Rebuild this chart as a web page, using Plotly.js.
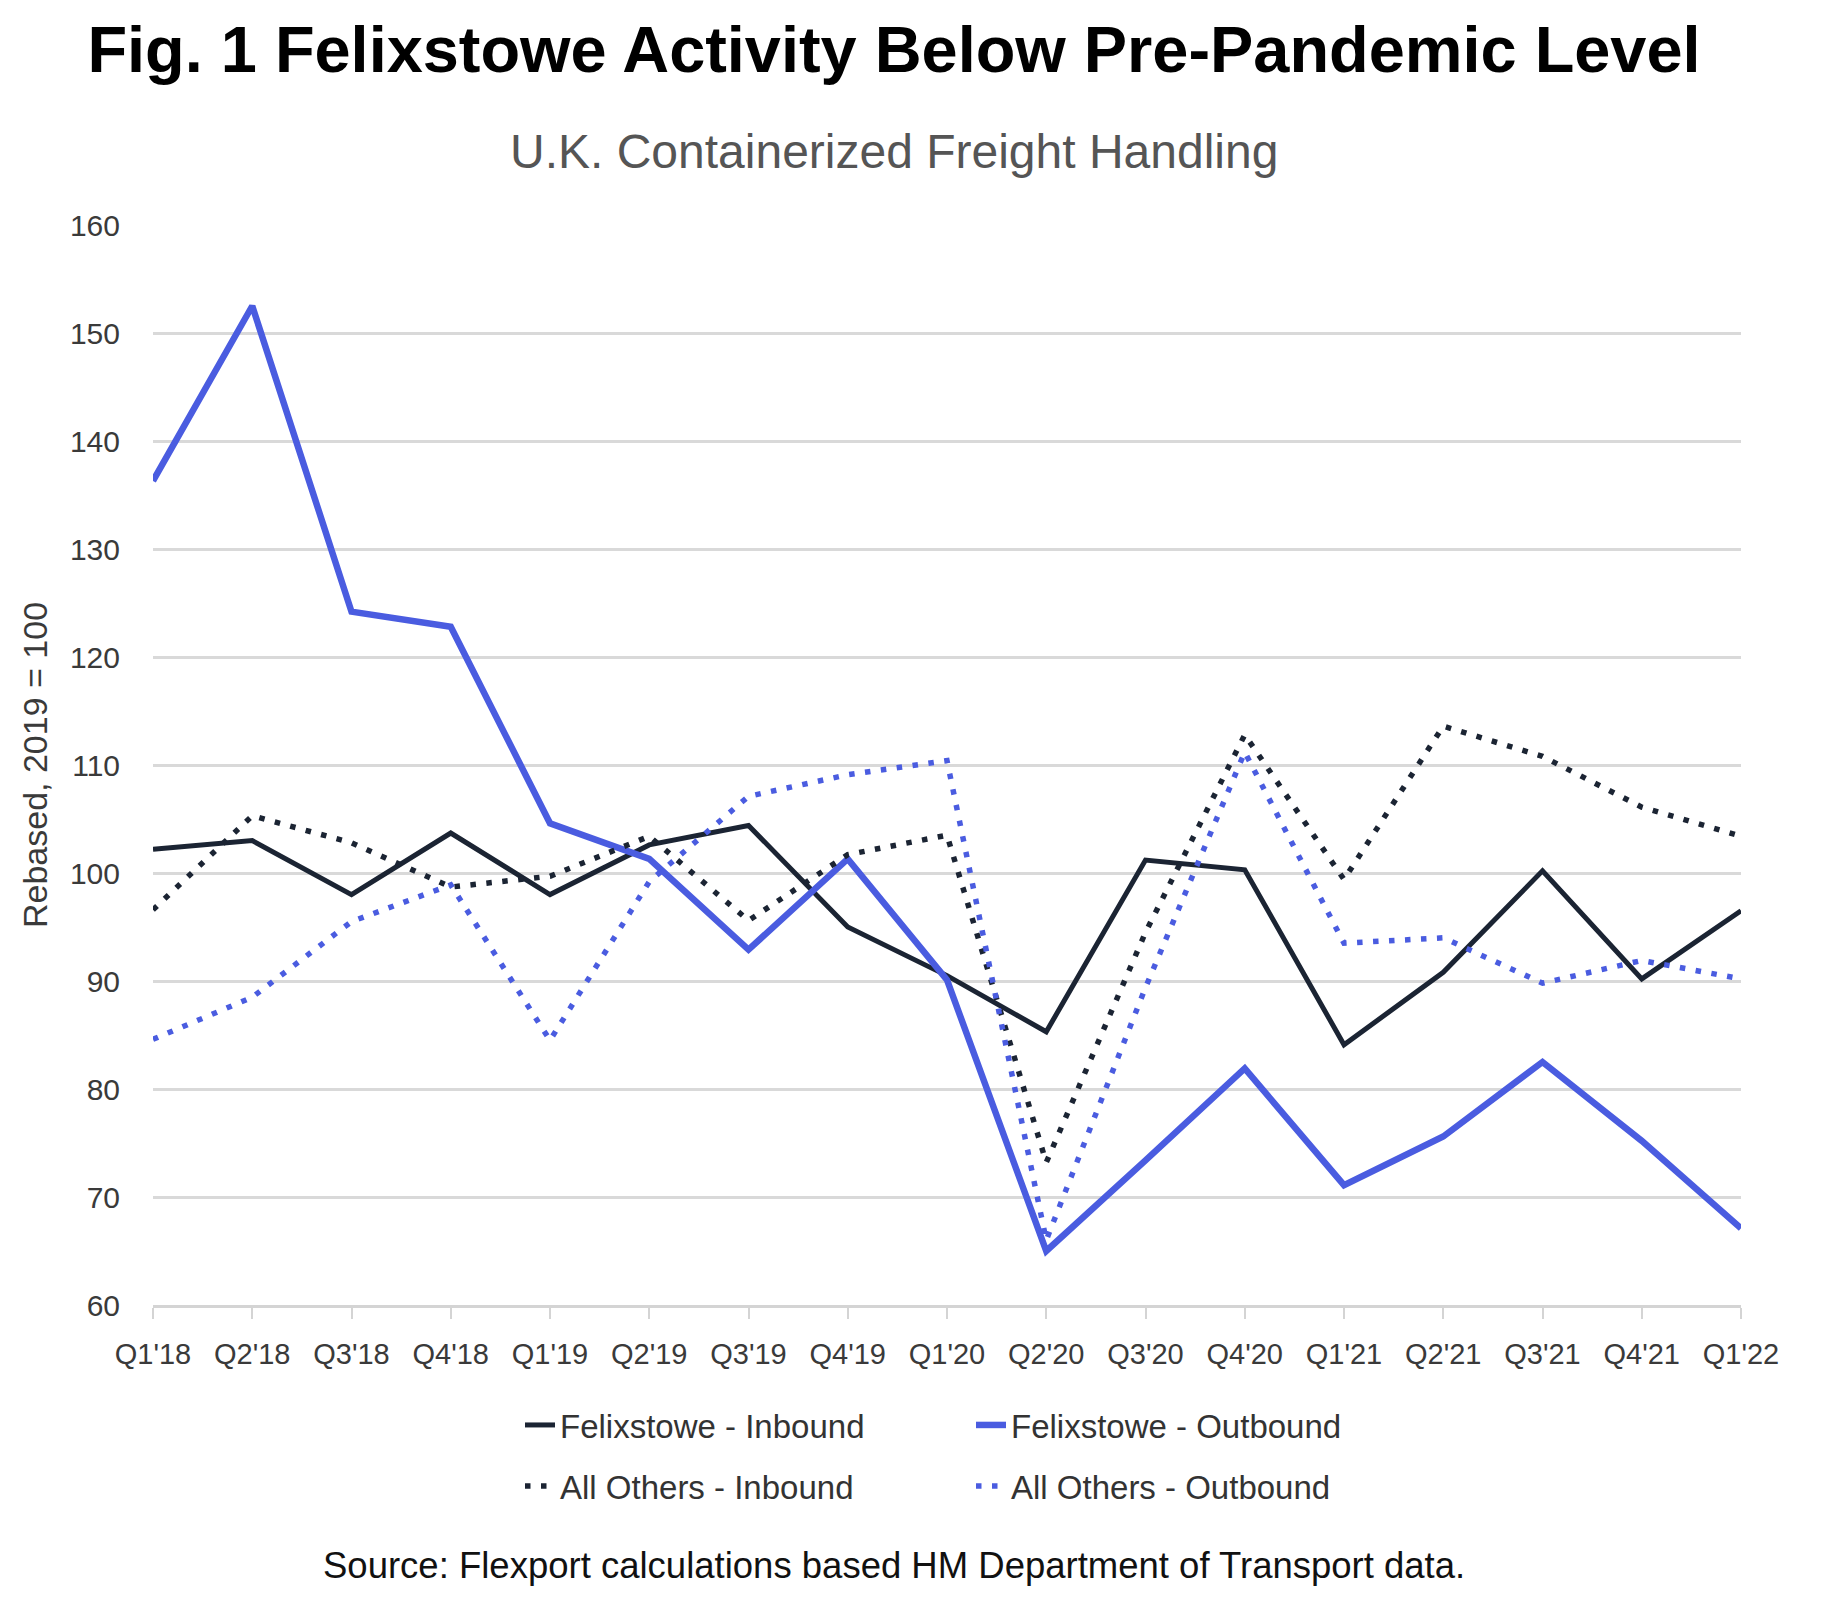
<!DOCTYPE html>
<html>
<head>
<meta charset="utf-8">
<script src="https://cdn.plot.ly/plotly-3.0.1.min.js"></script>
<style>
  html, body { margin: 0; padding: 0; background: #ffffff; }
  #chart { width: 1845px; height: 1599px; }
</style>
</head>
<body>
<div id="chart"></div>
<script>
// ---- data ----
const quarters = ["Q1'18","Q2'18","Q3'18","Q4'18","Q1'19","Q2'19","Q3'19","Q4'19","Q1'20","Q2'20","Q3'20","Q4'20","Q1'21","Q2'21","Q3'21","Q4'21","Q1'22"];
const felixstoweInbound  = [102.2, 103.0, 98.0, 103.7, 98.0, 102.6, 104.4, 95.0, 90.5, 85.3, 101.2, 100.3, 84.1, 90.8, 100.2, 90.2, 96.5];
const felixstoweOutbound = [136.3, 152.5, 124.2, 122.8, 104.6, 101.3, 92.9, 101.3, 90.1, 65.0, 73.4, 81.9, 71.1, 75.6, 82.5, 75.2, 67.1];
const allOthersInbound   = [96.6, 105.3, 102.8, 98.7, 99.7, 103.4, 95.6, 101.7, 103.5, 73.2, 94.5, 112.8, 99.4, 113.6, 110.8, 106.1, 103.4];
const allOthersOutbound  = [84.6, 88.5, 95.5, 98.9, 84.5, 99.2, 107.1, 109.1, 110.4, 66.0, 89.4, 111.2, 93.5, 94.0, 89.8, 91.9, 90.2];
const yTicks = [60, 70, 80, 90, 100, 110, 120, 130, 140, 150, 160];

const seriesNames = ["Felixstowe - Inbound", "Felixstowe - Outbound", "All Others - Inbound", "All Others - Outbound"];
const titleText = "Fig. 1 Felixstowe Activity Below Pre-Pandemic Level";
const subtitleText = "U.K. Containerized Freight Handling";
const sourceText = "Source: Flexport calculations based HM Department of Transport data.";
const yTitleText = "Rebased, 2019 = 100";

const DARK = "#1b2433";
const BLUE = "#4a5ce0";
const FONT = "Liberation Sans, Arial, sans-serif";

const traces = [
  { x: quarters, y: felixstoweInbound, name: seriesNames[0], type: "scatter", mode: "lines",
    line: { color: DARK, width: 5 }, legend: "legend" },
  { x: quarters, y: felixstoweOutbound, name: seriesNames[1], type: "scatter", mode: "lines",
    line: { color: BLUE, width: 6.5 }, legend: "legend" },
  { x: quarters, y: allOthersInbound, name: seriesNames[2], type: "scatter", mode: "lines",
    line: { color: DARK, width: 5.5, dash: "5.5px,10.5px" }, legend: "legend2" },
  { x: quarters, y: allOthersOutbound, name: seriesNames[3], type: "scatter", mode: "lines",
    line: { color: BLUE, width: 5.5, dash: "5.5px,10.5px" }, legend: "legend2" }
];

const legendCommon = {
  orientation: "h",
  xref: "container", yref: "container",
  xanchor: "left", yanchor: "middle",
  entrywidth: 406, entrywidthmode: "pixels",
  font: { family: FONT, size: 33, color: "#333333" },
  bgcolor: "rgba(0,0,0,0)", borderwidth: 0,
  traceorder: "normal"
};

const layout = {
  width: 1845, height: 1599,
  paper_bgcolor: "#ffffff", plot_bgcolor: "#ffffff",
  margin: { l: 153, r: 103.5, t: 225, b: 294, pad: 0 },
  font: { family: FONT, color: "#333333" },
  title: {
    text: "<b>" + titleText + "</b>",
    font: { family: FONT, size: 64.9, color: "#000000" },
    xref: "container", yref: "container",
    x: 894 / 1845, xanchor: "center",
    y: 1 - 49 / 1599, yanchor: "middle"
  },
  xaxis: {
    type: "category",
    range: [0, quarters.length - 1],
    showgrid: false, zeroline: false,
    showline: true, linecolor: "#d4d4d4", linewidth: 2.5,
    ticks: "outside", ticklen: 11, tickwidth: 2, tickcolor: "#d4d4d4",
    tickfont: { family: FONT, size: 29, color: "#3a3a3a" },
    ticklabelstandoff: 10,
    fixedrange: true
  },
  yaxis: {
    range: [60, 160],
    tickvals: yTicks,
    showgrid: true, gridcolor: "#d9d9d9", gridwidth: 2.5,
    zeroline: false, showline: false,
    ticks: "",
    tickfont: { family: FONT, size: 30, color: "#3a3a3a" },
    ticklabelstandoff: 32,
    title: { text: yTitleText, font: { family: FONT, size: 34, color: "#3a3a3a" }, standoff: 12 },
    automargin: false,
    fixedrange: true
  },
  showlegend: true,
  legend: Object.assign({}, legendCommon, { x: 520 / 1845, y: 1 - 1425 / 1599 }),
  legend2: Object.assign({}, legendCommon, { x: 520 / 1845, y: 1 - 1486 / 1599 }),
  annotations: [
    { text: subtitleText, xref: "paper", yref: "paper",
      x: (894 - 153) / 1588.5, y: (1305 - 151) / 1080, xanchor: "center", yanchor: "middle",
      showarrow: false, font: { family: FONT, size: 48, color: "#555555" } },
    { text: sourceText, xref: "paper", yref: "paper",
      x: (894 - 153) / 1588.5, y: (1305 - 1565) / 1080, xanchor: "center", yanchor: "middle",
      showarrow: false, font: { family: FONT, size: 36.5, color: "#111111" } }
  ]
};

Plotly.newPlot("chart", traces, layout, { displayModeBar: false, responsive: false });
</script>
</body>
</html>
